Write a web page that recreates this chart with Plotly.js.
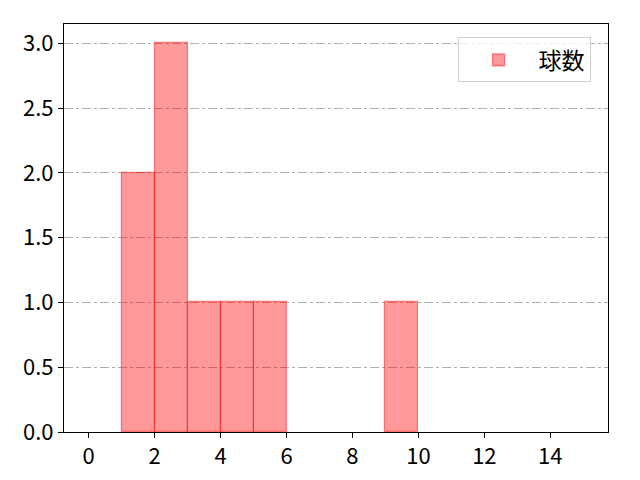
<!DOCTYPE html>
<html><head><meta charset="utf-8">
<script src="https://cdn.plot.ly/plotly-3.0.1.min.js"></script>
<style>body{margin:0}#c{width:640px;height:480px}</style>
</head><body><div id="c"></div>
<script>
var binStarts = [1, 2, 3, 4, 5, 9];
var counts = [2, 3, 1, 1, 1, 1];
var seriesName = '球数';
var xTicks = [0, 2, 4, 6, 8, 10, 12, 14];
var yTicks = [0, 0.5, 1.0, 1.5, 2.0, 2.5, 3.0];

var font = 'Noto Sans CJK JP, sans-serif';
var trace = {
  type: 'bar', x: binStarts, y: counts, width: 1, offset: 0,
  name: seriesName,
  marker: {color: 'rgba(255,0,0,0.4)', line: {color: 'rgba(255,0,0,0.45)', width: 1.2}},
  showlegend: true
};
var layout = {
  width: 640, height: 480,
  margin: {l: 64, r: 32, t: 24, b: 48},
  paper_bgcolor: 'white', plot_bgcolor: 'white',
  font: {family: font, size: 22, color: 'black'},
  bargap: 0,
  xaxis: {range: [-0.75, 15.75], tickvals: xTicks, ticks: 'outside', ticklen: 5, tickcolor: 'black',
    showline: true, mirror: true, linecolor: 'black', linewidth: 1, showgrid: false, zeroline: false,
    tickfont: {size: 22}},
  yaxis: {range: [0, 3.15], tickvals: yTicks, ticktext: yTicks.map(function(v){return v.toFixed(1);}),
    ticks: 'outside', ticklen: 5, tickcolor: 'black',
    showline: true, mirror: true, linecolor: 'black', linewidth: 1,
    showgrid: true, gridcolor: '#b0b0b0', gridwidth: 1, griddash: 'dashdot', zeroline: false,
    tickfont: {size: 22}},
  legend: {x: 0.968, y: 0.967, xanchor: 'right', yanchor: 'top', bgcolor: 'rgba(255,255,255,0.8)',
    bordercolor: '#d0d0d0', borderwidth: 1, font: {size: 23}, itemwidth: 70}
};
Plotly.newPlot('c', [trace], layout, {displayModeBar: false});
</script></body></html>
